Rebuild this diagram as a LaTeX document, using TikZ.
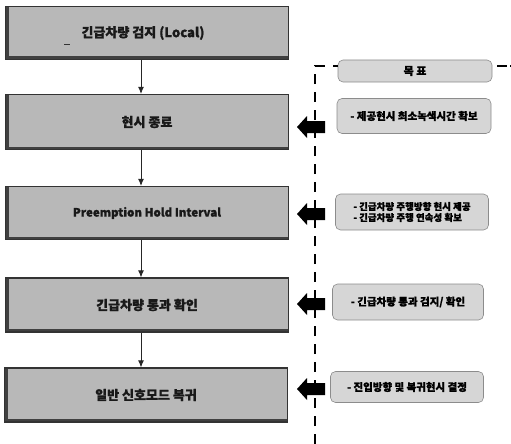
\documentclass[tikz,border=0pt]{standalone}
\usepackage{fontspec}
\setmainfont{Liberation Sans}
\newfontfamily\kr{Noto Sans CJK KR}[BoldFeatures={FakeBold=1.2}]
\usetikzlibrary{arrows.meta}
\tikzset{
  stepbox/.style={draw=black!80, line width=1.2pt, fill=black!28, minimum width=283pt, inner sep=0pt,
    font=\kr\bfseries\fontsize{13}{15}\selectfont, text=black!90,
    path picture={\draw[line width=6pt, black!75] (path picture bounding box.north west) -- (path picture bounding box.south west) -- (path picture bounding box.south east);}},
  goalbox/.style={draw=black!45, line width=0.6pt, fill=black!16, rounded corners=5pt, inner sep=0pt,
    font=\kr\bfseries\fontsize{10.5}{11.5}\selectfont, align=left, text=black},
  flow/.style={draw=black!85, line width=0.9pt, -{Latex[length=7pt,width=6pt]}},
  dashline/.style={draw=black, line width=2.2pt, dash pattern=on 10pt off 8pt},
  blockarrow/.style={fill=black}
}
\begin{document}
\begin{tikzpicture}[x=1pt,y=-1pt]
\useasboundingbox (0,0) rectangle (511,444);
% left flow
\node[stepbox, minimum height=53pt] (b1) at (147,33) {\hspace*{-8pt}긴급차량 검지 (Local)};
\node[stepbox, minimum height=55pt] (b2) at (147,122) {현시 종료};
\node[stepbox, minimum height=53pt, font=\kr\bfseries\fontsize{11.5}{14}\selectfont] (b3) at (147,213) {Preemption Hold Interval};
\node[stepbox, minimum height=54pt] (b4) at (147,305) {긴급차량 통과 확인};
\node[stepbox, minimum height=54pt] (b5) at (146,395) {일반 신호모드 복귀};
\draw[line width=0.8pt, black!80] (64,44) -- (70,44);
\coordinate (ax) at (141,0);
\draw[flow] (b1.south -| ax) -- (b2.north -| ax);
\draw[flow] (b2.south -| ax) -- (b3.north -| ax);
\draw[flow] (b3.south -| ax) -- (b4.north -| ax);
\draw[flow] (b4.south -| ax) -- (b5.north -| ax);
% goal column
\node[goalbox, minimum width=154pt, minimum height=22pt, align=center, font=\kr\bfseries\fontsize{11}{12}\selectfont] (g0) at (415,71) {목 표};
\node[goalbox, minimum width=154pt, minimum height=35pt] (g1) at (414,116) {- 제공현시 최소녹색시간 확보};
\node[goalbox, minimum width=153pt, minimum height=36pt, font=\kr\bfseries\fontsize{9.5}{11}\selectfont] (g2) at (412,212) {- 긴급차량 주행방향 현시 제공\\- 긴급차량 주행 연속성 확보};
\node[goalbox, minimum width=151pt, minimum height=36pt] (g3) at (408,302) {- 긴급차량 통과 검지/ 확인};
\node[goalbox, minimum width=153pt, minimum height=31pt] (g4) at (407,387) {- 진입방향 및 복귀현시 결정};
\coordinate (dbot) at (315,444);
\coordinate (dtop) at (315,66);
\coordinate (dend) at (511,66);
\draw[dashline] (dbot) -- (dtop) -- (dtop -| g0.west);
\draw[dashline, dash pattern=on 10pt off 3pt] (g0.east |- dend) ++(5,0) -- (dend);
% block arrows
\foreach \yy/\nm in {127/a1,214/a2,304/a3,389/a4}{
  \coordinate (\nm) at (297,\yy);
  \fill[blockarrow] (\nm) -- ++(10,-11) -- ++(0,5) -- ++(18,0) -- ++(0,12) -- ++(-18,0) -- ++(0,5) -- cycle;
}
\end{tikzpicture}
\end{document}
